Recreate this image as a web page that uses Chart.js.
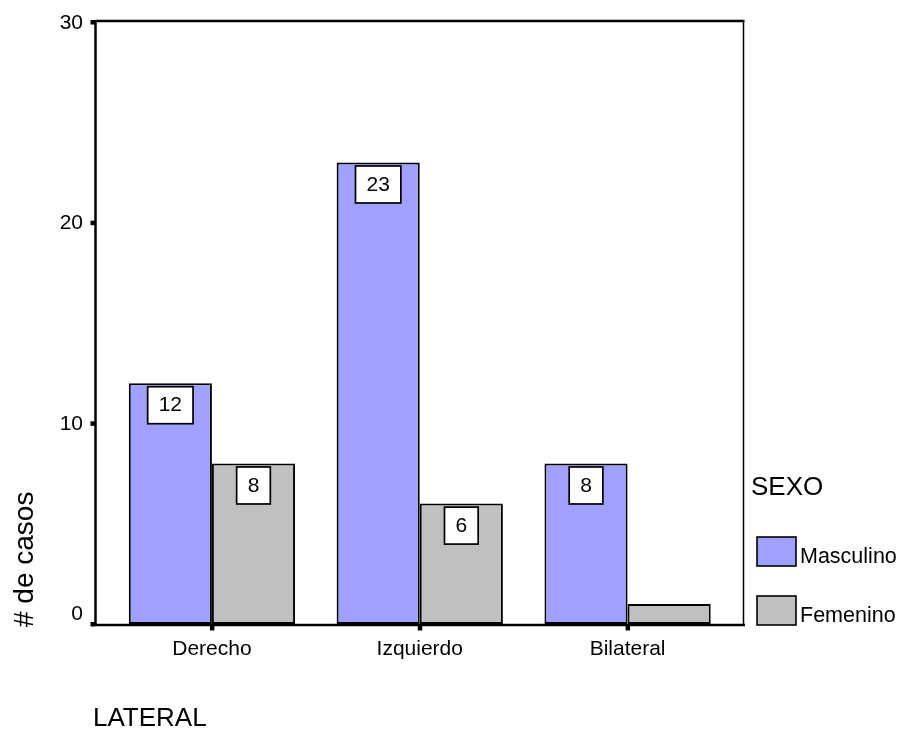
<!DOCTYPE html>
<html>
<head>
<meta charset="utf-8">
<script src="https://cdn.jsdelivr.net/npm/chart.js@4/dist/chart.umd.min.js"></script>
<style>
  html, body { margin: 0; padding: 0; background: #fff; }
  #wrap { width: 903px; height: 730px; }
</style>
</head>
<body>
<div id="wrap"><canvas id="c" width="903" height="730"></canvas></div>
<script>
// Casos por lateralidad y sexo
const categories = ['Derecho', 'Izquierdo', 'Bilateral'];
const masculino = [12, 23, 8];
const femenino = [8, 6, 1];
const seriesNames = ['Masculino', 'Femenino'];
const yTicks = [0, 10, 20, 30];
const legendTitle = 'SEXO';
const xTitle = 'LATERAL';
const yTitle = '# de casos';

const FONT = '"Liberation Sans", Arial, sans-serif';
const COLORS = ['#a0a0ff', '#c0c0c0'];

// Frame, ticks, value boxes, titles and legend drawn on top of the bars
const decorations = {
  id: 'decorations',
  afterDatasetsDraw(chart) {
    const ctx = chart.ctx;
    ctx.save();
    ctx.font = '21px ' + FONT;
    ctx.textAlign = 'center';
    ctx.textBaseline = 'middle';
    chart.data.datasets.forEach((ds, di) => {
      const meta = chart.getDatasetMeta(di);
      meta.data.forEach((bar, i) => {
        const h = bar.base - bar.y;
        const boxH = 37;
        if (h < boxH + 8) return;
        const txt = String(ds.data[i]);
        const w = ctx.measureText(txt).width + 22;
        const top = bar.y + 3.5;
        ctx.fillStyle = '#fff';
        ctx.fillRect(bar.x - w / 2, top, w, boxH);
        ctx.strokeStyle = '#000';
        ctx.lineWidth = 1.7;
        ctx.strokeRect(bar.x - w / 2, top, w, boxH);
        ctx.fillStyle = '#000';
        ctx.fillText(txt, bar.x, top + boxH / 2 + 0.5);
      });
    });
    ctx.restore();
  },
  afterDraw(chart) {
    const ctx = chart.ctx;
    const area = chart.chartArea;
    const ys = chart.scales.y;
    const xs = chart.scales.x;
    const left = area.left - 12.5;
    const right = area.right + 12;
    const top = ys.getPixelForValue(30) - 1;
    const bottom = ys.getPixelForValue(0) + 1;
    ctx.save();
    ctx.strokeStyle = '#000';
    // frame
    ctx.lineWidth = 1.5;
    ctx.beginPath();
    ctx.moveTo(right, top); ctx.lineTo(right, bottom);
    ctx.stroke();
    ctx.lineWidth = 2.5;
    ctx.beginPath();
    ctx.moveTo(left, top); ctx.lineTo(right + 1, top);
    ctx.moveTo(left, top - 1); ctx.lineTo(left, bottom + 1);
    ctx.moveTo(left - 1, bottom); ctx.lineTo(right + 1.5, bottom);
    ctx.stroke();

    // y ticks and labels
    ctx.fillStyle = '#000';
    ctx.font = '21px ' + FONT;
    ctx.textAlign = 'right';
    ctx.textBaseline = 'middle';
    ys.ticks.forEach(t => {
      const py = ys.getPixelForValue(t.value);
      ctx.fillRect(left - 5, py - 2, 4.5, 4.5);
      const ly = t.value === ys.min ? py - 10 : py + 1;
      ctx.fillText(String(t.value), 83, ly);
    });

    // x ticks and category labels
    ctx.font = '21px ' + FONT;
    ctx.textAlign = 'center';
    ctx.textBaseline = 'alphabetic';
    categories.forEach((c, i) => {
      const px = xs.getPixelForValue(i);
      ctx.fillRect(px - 2, bottom + 1, 4.5, 4.5);
      ctx.fillText(xs.getLabelForValue(i), px, 655);
    });

    // axis titles
    ctx.font = '26px ' + FONT;
    ctx.textAlign = 'left';
    ctx.fillText(xTitle, 93, 726);
    ctx.save();
    ctx.translate(33, 627);
    ctx.rotate(-Math.PI / 2);
    ctx.font = '28px ' + FONT;
    ctx.fillText(yTitle, 0, 0);
    ctx.restore();

    // legend
    ctx.font = '26px ' + FONT;
    ctx.fillText(legendTitle, 751, 495);
    ctx.font = '21.5px ' + FONT;
    const boxTops = [537, 596];
    chart.data.datasets.forEach((ds, di) => {
      const y0 = boxTops[di];
      ctx.fillStyle = ds.backgroundColor;
      ctx.fillRect(757, y0, 39, 29);
      ctx.lineWidth = 1.6;
      ctx.strokeRect(757, y0, 39, 29);
      ctx.fillStyle = '#000';
      ctx.fillText(ds.label, 800, y0 + 26);
    });
    ctx.restore();
  }
};

new Chart(document.getElementById('c'), {
  type: 'bar',
  data: {
    labels: categories,
    datasets: [
      { label: seriesNames[0], data: masculino, backgroundColor: COLORS[0],
        borderColor: '#000', borderWidth: 2, borderSkipped: false },
      { label: seriesNames[1], data: femenino, backgroundColor: COLORS[1],
        borderColor: '#000', borderWidth: 2, borderSkipped: false }
    ]
  },
  options: {
    responsive: false,
    animation: false,
    devicePixelRatio: 1,
    layout: { padding: { top: 22, right: 171.5, bottom: 0, left: 0 } },
    datasets: { bar: { categoryPercentage: 0.8, barPercentage: 1.0 } },
    plugins: { legend: { display: false }, tooltip: { enabled: false } },
    scales: {
      x: {
        grid: { display: false, drawTicks: false },
        border: { display: false },
        ticks: { display: false },
        afterFit(scale) { scale.height = 106; }
      },
      y: {
        min: 0, max: 30,
        grid: { display: false, drawTicks: false },
        border: { display: false },
        ticks: { display: false, stepSize: 10 },
        afterBuildTicks(scale) { scale.ticks = yTicks.map(v => ({ value: v })); },
        afterFit(scale) { scale.width = 108; }
      }
    }
  },
  plugins: [decorations]
});
</script>
</body>
</html>
